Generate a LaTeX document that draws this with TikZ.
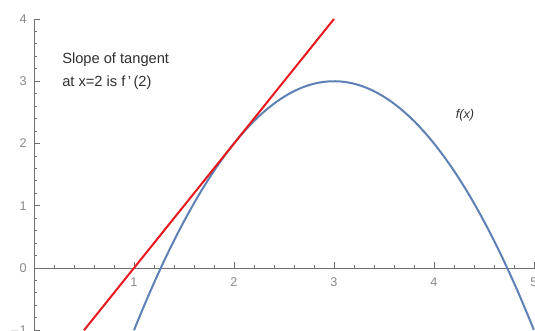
\documentclass[tikz,border=0pt]{standalone}
\usepackage{fontspec}
\setmainfont{Liberation Sans}
\definecolor{mblue}{HTML}{5E81B5}
\definecolor{mred}{HTML}{E8191E}
\definecolor{axisgray}{HTML}{707070}
\definecolor{ticklab}{HTML}{8A8A8A}
\definecolor{txt}{HTML}{303030}
\begin{document}
\begin{tikzpicture}[x=75pt,y=46.6875pt,
  axisline/.style={draw=axisgray,line width=0.6pt},
  ticklabel/.style={text=ticklab,font=\fontsize{9.5}{11}\selectfont,inner sep=0pt},
  note/.style={text=txt,font=\fontsize{11}{13}\selectfont,inner sep=0pt,anchor=west},
  curve/.style={draw=mblue,line width=1.5pt},
  tangent/.style={draw=mred,line width=1.5pt}]
\useasboundingbox[fill=white] (-0.34,-1.012) rectangle (5.01,4.305);
% axes
\coordinate (o) at (0,0);
\coordinate (xend) at (5.01,0);
\coordinate (ybot) at (0,-1.012);
\coordinate (ytop) at (0,4);
\draw[axisline] (o) -- (xend);
\draw[axisline] (ybot) -- (ytop);
% x ticks
\foreach \i in {1,...,25} {
  \pgfmathsetmacro\xx{\i*0.2}
  \draw[axisline] (\xx,0) -- ++(0,2.5pt);
}
\foreach \i in {1,...,5} {
  \draw[axisline] (\i,0) -- ++(0,4.5pt);
  \node[ticklabel] (xl\i) at (\i,-0.23) {\i};
}
% y ticks
\foreach \i in {-5,...,20} {
  \pgfmathsetmacro\yy{\i*0.2}
  \draw[axisline] (0,\yy) -- ++(2.5pt,0);
}
\foreach \i in {-1,...,4} {
  \draw[axisline] (0,\i) -- ++(4.5pt,0);
  \node[ticklabel,anchor=east] (yl\i) at (-0.07,\i) {\ifnum\i<0 $-$1\else\i\fi};
}
% curve
\draw[curve] plot[domain=1:5,samples=120,smooth] (\x,{3-(\x-3)^2});
% tangent
\coordinate (ta) at (0.5,-1);
\coordinate (tb) at (3,4);
\draw[tangent] (ta) -- (tb);
% labels
\node[note] (n1) at (0.28,3.345) {Slope of tangent};
\node[note] (n2) at (0.28,2.975) {at x=2 is f\,'\,(2)};
\node[text=txt,font=\fontsize{9.5}{11}\selectfont\itshape,inner sep=0pt] (fx) at (4.31,2.45) {f(x)};
\end{tikzpicture}
\end{document}
